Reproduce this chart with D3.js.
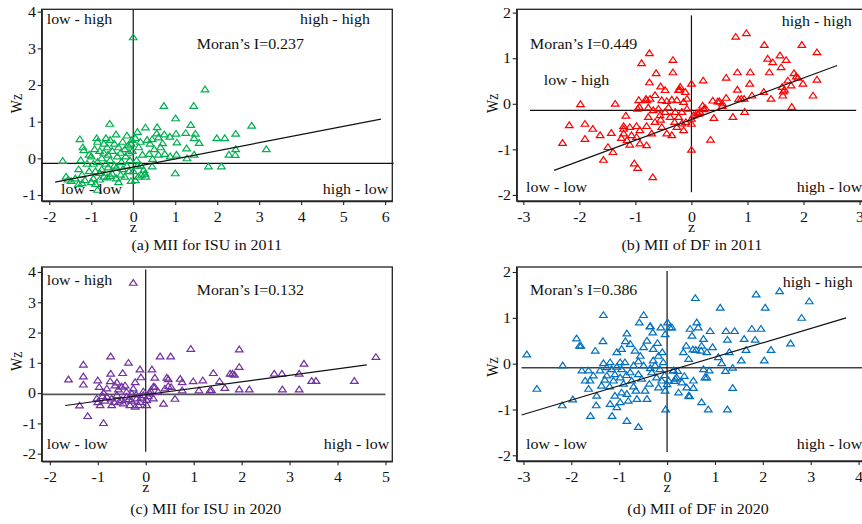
<!DOCTYPE html>
<html>
<head>
<meta charset="utf-8">
<script src="https://cdn.jsdelivr.net/npm/d3@7"></script>
<style>
  body { margin: 0; background: #fff; }
  text { font-family: "Liberation Serif", "Times New Roman", serif; font-size: 14px; fill: #111; }
</style>
</head>
<body>
<svg id="fig" width="862" height="524"></svg>
<script>
// points are [z, Wz]
const ptsA = [
  [0,3.3],[1.71,1.88],[0.73,1.43],[1.44,1.43],[1.01,1.09],[-0.56,0.94],[2.82,0.89],[1.37,0.91],[0.29,0.84],[0.57,0.85],
  [1.99,0.55],[2.18,0.55],[2.44,0.67],[3.17,0.25],[2.44,0.25],[2.43,0.09],[2.28,0.10],[1.79,-0.22],[2.10,-0.22],[1.00,-0.41],
  [1.57,0.42],[1.45,0.55],[1.48,0.67],[1.25,0.69],[1.27,0.27],[1.45,0.10],[1.28,0.0],[1.03,0.10],[1.04,0.43],[1.02,0.67],
  [0.87,0.59],[0.74,0.65],[0.60,0.57],[0.56,0.68],[0.45,0.52],[0.33,0.50],[0.70,0.41],[0.65,0.30],[0.50,0.25],[0.40,0.40],
  [0.38,0.12],[0.60,0.10],[0.75,0.12],[0.88,0.05],[0.46,-0.02],[0.45,-0.22],[0.22,0.10],[0.13,0.30],[0.17,0.45],[0.10,0.72],
  [0.05,0.55],[0.25,-0.32],[0.30,-0.50],[0.28,-0.42],[0.20,-0.45],[0.12,-0.50],[0.05,-0.60],[0.0,-0.35],[0.10,-0.20],[0.18,-0.20],[0.08,-0.05],
  [-1.68,-0.07],[-1.27,0.52],[-1.20,0.30],[-1.18,0.22],[-1.25,-0.05],[-1.10,-0.15],[-1.30,-0.30],[-1.22,-0.45],[-1.05,-0.35],[-1.60,-0.50],
  [-1.55,-0.58],[-1.48,-0.62],[-1.38,-0.55],[-1.30,-0.70],[-1.22,-0.68],[-0.85,-0.86],[-0.95,-0.55],[-1.00,-0.65],[-0.90,-0.70],[-0.80,-0.58],
  [-0.70,-0.50],[-0.62,-0.52],[-0.55,-0.48],[-0.50,-0.42],[-0.40,-0.55],[-0.35,-0.65],[-0.30,-0.45],[-0.20,-0.50],[-0.10,-0.35],[-0.05,-0.62],
  [-0.87,0.55],[-0.85,0.45],[-0.80,0.20],[-0.92,0.25],[-1.00,0.05],[-0.95,-0.15],[-0.85,-0.10],[-0.75,0.00],[-0.70,0.15],[-0.65,0.55],
  [-0.62,0.30],[-0.60,0.10],[-0.55,-0.05],[-0.50,0.20],[-0.45,0.40],[-0.41,0.65],[-0.38,0.05],[-0.35,0.30],[-0.30,0.15],[-0.28,-0.10],
  [-0.25,0.45],[-0.20,0.25],[-0.18,0.05],[-0.15,0.62],[-0.12,0.35],[-0.10,0.15],[-0.08,-0.05],[-0.05,0.40],[-0.02,0.20],[-0.03,0.50],
  [-0.45,-0.20],[-0.60,-0.25],[-0.75,-0.30],[-0.90,-0.35],[-1.05,0.10],[-0.70,0.40],[-0.55,0.50],[-0.65,-0.15],[-0.40,-0.25],[-0.25,-0.30],
  [-0.15,-0.20],[-1.15,-0.60],[-0.80,-0.40]
];

const ptsB = [
  [-1.98,-0.01],[-1.36,0.0],[-2.30,-0.86],[-2.18,-0.47],[-1.90,-0.44],[-1.90,-0.77],[-1.76,-0.55],[-1.63,-0.69],[-1.57,-1.23],[-1.49,-0.95],
  [-1.43,-0.64],[-1.40,-1.06],[-1.17,-0.26],[-1.21,-0.55],[-1.02,-1.31],[-0.96,-1.41],[-0.69,-1.61],[-0.89,0.89],[-0.75,1.11],[-0.33,0.96],
  [-0.63,0.67],[-0.33,0.69],[-0.75,0.47],[-0.55,0.38],[-0.21,0.31],[0,0.44],[0.21,0.51],[-0.81,0.11],[-0.93,-0.07],[0,-0.33],
  [0,-0.44],[0,-1.01],[0.34,-0.79],[0.40,-0.31],[0.20,-0.04],[0.22,-0.12],[0.12,-0.22],[0.38,0.07],[0.47,0.05],[0.62,0.13],
  [0.62,0.57],[0.82,0.69],[0.82,0.31],[0.74,-0.29],[0.95,-0.18],[0.89,0.11],[1.05,0.69],[1.04,0.44],[1.08,0.18],[0.79,1.47],
  [0.98,1.55],[1.30,1.29],[1.29,0.26],[1.36,0.99],[1.45,0.91],[1.39,0.69],[1.42,0.11],[1.58,1.06],[1.69,0.96],[1.60,0.80],
  [1.97,1.29],[2.24,1.13],[2.24,0.53],[2.17,0.18],[1.83,0.67],[1.72,0.51],[1.78,0.40],[1.90,0.57],[1.99,0.44],[1.66,0.31],
  [1.63,0.18],[1.79,-0.07],[1.87,0.60],[1.64,0.27],[1.62,0.37],[0.94,0.11],[0.84,0.10],[0.55,0.01],
  [-1.21,-0.49],[-1.10,-0.51],[-0.98,-0.49],[-1.21,-0.65],[-1.07,-0.69],[-1.15,-0.80],[-0.98,-0.73],[-0.92,-0.58],[-0.96,-0.11],[-0.77,-0.08],
  [-0.77,-0.29],[-0.68,-0.14],[-0.59,-0.11],[-0.56,-0.25],[-0.47,-0.18],[-0.41,-0.08],[-0.38,-0.29],[-0.29,-0.18],[-0.23,-0.29],[-0.17,-0.18],
  [-0.08,-0.11],[-0.65,-0.40],[-0.53,-0.51],[-0.44,-0.65],[-0.35,-0.69],[-0.26,-0.51],[-0.17,-0.43],[-0.14,-0.58],[-0.80,-0.49],[-0.71,-0.65],
  [-0.92,-0.87],[-0.80,-0.91],[-0.94,0.08],[-0.80,0.08],[-0.74,0.11],[-0.65,0.19],[-0.53,0.08],[-0.44,0.06],[-0.35,0.09],[-0.26,0.08],
  [-0.14,0.04],[-0.08,0.11],[0.04,-0.25],[-0.23,0.30],[-0.11,0.26],[-0.47,0.30],[-0.20,0.37],
  [0.10,-0.20],[0.25,-0.10],[0.50,0.05],[0.55,-0.05],[0.15,-0.18],[-0.10,-0.40],[-0.30,-0.40],[-0.55,-0.35],[-1.10,-0.90],[-1.25,-0.75]
];

const ptsC = [
  [-0.26,3.64],[-1.61,0.45],[-1.30,0.94],[-1.30,0.55],[-1.30,0.28],[-1.38,-0.41],[-1.21,-0.76],[-0.88,-0.99],[-1.00,0.42],[-0.97,0.20],
  [-0.73,1.21],[-0.73,0.64],[-0.74,0.39],[-0.64,0.25],[-0.48,0.66],[-0.36,1.0],[-0.43,0.25],[-0.22,0.36],[-0.12,0.78],[-0.10,0.52],
  [0.13,0.78],[0.19,0.51],[0.30,1.21],[0.52,1.21],[0.44,0.51],[0.47,0.46],[0.72,0.47],[0.76,0.36],[0.53,0.20],[0.19,0.20],
  [0.37,-0.35],[0.61,-0.19],[0.76,0.09],[0.94,1.46],[0.99,0.39],[1.11,0.09],[1.19,0.42],[1.34,0.09],[1.41,0.66],[1.54,0.39],
  [1.65,0.17],[1.76,0.64],[1.81,0.64],[1.85,0.61],[1.95,1.44],[1.95,0.86],[1.95,0.12],[2.16,0.12],[2.68,0.64],[2.84,0.64],
  [2.85,0.12],[3.20,0.64],[3.20,0.12],[3.30,0.97],[3.46,0.40],[3.55,0.40],[4.35,0.40],[4.80,1.19],
  [-0.50,0.21],[-0.88,0.01],[-0.81,-0.12],[-0.71,-0.18],[-0.60,-0.07],[-0.50,-0.23],[-0.40,-0.12],[-0.29,-0.01],[-0.19,-0.18],[-0.12,-0.29],
  [-0.05,-0.07],[0.02,-0.23],[0.09,-0.01],[0.16,-0.18],[-1.02,-0.18],[-0.95,-0.40],[-0.71,-0.40],[-0.47,-0.34],[-0.33,-0.40],[-0.22,-0.45],
  [-0.15,-0.40],[0.02,-0.40],[-0.40,0.04],[0.26,0.04],[0.40,0.15],[0.47,0.23],[-0.81,0.15],[-0.57,0.12],[-0.26,0.15],[0.16,0.21],
  [-0.55,-0.28],[-0.30,-0.25],[-0.10,-0.15],[0.05,-0.10],[-0.65,-0.30],[-0.85,-0.25],[-0.20,-0.05],[-0.05,0.05],[0.10,0.08],[-0.35,-0.20],
  [-0.90,-0.10],[-0.60,0.35],[-1.00,-0.30],[1.37,0.10]
];

const ptsD = [
  [-2.93,0.20],[-2.72,-0.55],[-2.18,-0.04],[-2.19,-0.91],[-1.97,-0.78],[-1.89,0.55],[-1.80,0.39],[-1.83,0.39],[-1.50,0.28],[-1.48,-0.91],
  [-1.60,-1.14],[-1.33,1.06],[-1.34,0.49],[-1.15,-1.14],[-0.84,-1.25],[-0.60,-1.38],[-0.49,1.06],[-0.58,0.90],[-0.84,0.66],[-0.87,0.49],
  [-0.35,0.82],[-0.30,0.68],[-0.13,0.79],[0.01,0.90],[0.06,0.79],[-0.04,0.64],[-0.03,-1.0],
  [0.59,1.43],[1.11,1.22],[1.86,1.51],[2.35,1.58],[2.97,1.36],[2.05,1.22],[2.81,1.0],[2.58,0.44],[2.17,0.30],[2.03,0.07],
  [1.77,0.76],[1.96,0.76],[1.84,0.52],[1.65,0.30],[1.61,0.54],[1.55,0.07],[1.41,0.71],[1.23,0.71],[1.26,0.52],[1.30,0.25],
  [1.37,-0.09],[1.37,-0.53],[1.26,-1.0],[0.86,-1.0],[0.72,-0.84],[1.14,0.01],[1.07,0.14],[0.90,0.71],[0.95,0.36],[1.22,-0.16],
  [0.76,0.54],[0.65,0.79],[0.52,0.61],[0.62,0.90],[0.48,0.76],[0.34,0.25],[0.45,0.10],[0.40,0.39],[0.72,0.39],[0.83,0.25],
  [0.76,-0.12],[0.88,-0.15],[0.79,-0.30],[0.55,-0.37],[0.55,-0.53],[0.41,-0.52],[0.24,-0.63],[0.45,-0.70],[0.31,-0.41],[0.17,-0.33],
  [0.13,-0.15],[0.10,0.79],[0.83,-0.30],[0.60,0.30],[0.36,-0.27],[0.22,-0.16],[0.15,-0.38],[0.47,-0.71],[0.71,0.28],[0.54,0.31],
  [-0.36,0.81],[-1.64,-0.15],[-1.71,-0.37],[-1.33,0.01],[-1.26,-0.08],[-1.26,-0.26],[-1.19,0.03],[-1.16,-0.12],[-1.12,-0.37],[-1.09,-0.23],
  [-1.05,-0.07],[-0.98,0.03],[-0.98,-0.30],[-0.95,-0.12],[-0.91,-0.44],[-0.88,0.03],[-0.84,-0.66],[-0.77,-0.19],[-0.74,-0.37],[-0.70,-0.04],
  [-0.65,-0.59],[-0.60,-0.23],[-0.53,-0.33],[-0.49,-0.04],[-0.46,-0.59],[-0.42,-0.77],[-0.37,-0.44],[-0.32,-0.19],[-0.29,0.07],[-0.25,-0.04],
  [-0.22,-0.30],[-0.18,-0.52],[-0.15,-0.12],[-0.11,-0.37],[-0.08,0.03],[-0.04,-0.59],[-1.05,0.25],[-0.95,0.32],[-0.77,0.43],[-0.67,0.28],
  [-0.56,0.17],[-0.49,0.36],[-0.42,0.50],[-0.29,0.32],[-0.18,0.17],[-1.09,-0.70],[-0.95,-0.63],[-1.19,-0.88],[-1.05,-0.95],[-0.98,-0.84],
  [-0.81,-0.81],[-1.40,-0.15],[-1.54,-0.26],[0.03,-0.37],[0.13,-0.15],[0.20,-0.30],[-1.78,-0.15],[-1.61,-0.37],[-1.64,-0.55],[-1.47,-0.70],
  [-1.37,-0.48],[-0.63,-0.77],[-1.20,-0.50],[-0.70,-0.50],[-0.35,-0.10],[-0.05,-0.25],[0.00,-0.45],[-0.60,0.05],[-0.85,-0.25],[-1.30,-0.35],
  [-0.20,0.45],[-0.10,0.25]
];

// fitted lines, two end points each
const fitA = [[-1.86,-0.65],[5.9,1.07]];
const fitB = [[-2.45,-1.46],[2.6,0.84]];
const fitC = [[-1.68,-0.41],[4.61,0.93]];
const fitD = [[-3.04,-1.12],[3.74,1.0]];

// mean reference lines: [x0, x1, yLevel] horizontal, [y0, y1] vertical at z = 0
const hLineA = [-2.18, 6.2, -0.135], vLineA = [-1.16, 4.06];
const hLineB = [-2.88, 2.94, -0.145], vLineB = [-1.94, 1.94];
const hLineC = [-2.14, 5.0, -0.04], vLineC = [-1.94, 4.08];
const hLineD = [-3.04, 4.4, -0.087], vLineD = [-1.93, 2.02];

const xTicksA = [-2,-1,0,1,2,3,4,5,6], yTicksA = [-1,0,1,2,3,4];
const xTicksB = [-3,-2,-1,0,1,2,3],    yTicksB = [-2,-1,0,1,2];
const xTicksC = [-2,-1,0,1,2,3,4,5],   yTicksC = [-2,-1,0,1,2,3,4];
const xTicksD = [-3,-2,-1,0,1,2,3,4],  yTicksD = [-2,-1,0,1,2];

const captions = ["(a) MII for ISU in 2011", "(b) MII of DF in 2011", "(c) MII for ISU in 2020", "(d) MII of DF in 2020"];
const moranText = ["Moran\u2019s I=0.237", "Moran\u2019s I=0.449", "Moran\u2019s I=0.132", "Moran\u2019s I=0.386"];
const colors = ["#00b050", "#ff0000", "#7030a0", "#0070c0"];

const SX = 1.14;   // the original figure is stretched sideways
const TRI = "M0,-3.3L3.8,2.4L-3.8,2.4Z";

const svg = d3.select("#fig");

function label(g, x, y, str, anchor) {
  g.append("text")
    .attr("transform", `translate(${x},${y}) scale(${SX},1)`)
    .attr("text-anchor", anchor || "start")
    .text(str);
}

function fmt(d) { return String(d); }

function drawPanel(p) {
  const x = d3.scaleLinear().domain(p.xDom).range([p.left, p.right]);
  const y = d3.scaleLinear().domain(p.yDom).range([p.bottom, p.top]);
  const g = svg.append("g");

  g.append("rect")
    .attr("x", p.left).attr("y", p.top)
    .attr("width", p.right - p.left).attr("height", p.bottom - p.top)
    .attr("fill", "none").attr("stroke", "#222").attr("stroke-width", 1.3);

  const xa = g.append("g").attr("transform", `translate(0,${p.bottom})`)
    .call(d3.axisBottom(x).tickValues(p.xTicks).tickSize(4).tickSizeOuter(0).tickFormat(fmt));
  xa.selectAll("text").attr("y", 20.7).attr("dy", null)
    .attr("transform", `scale(${SX},1)`);
  const ya = g.append("g").attr("transform", `translate(${p.left},0)`)
    .call(d3.axisLeft(y).tickValues(p.yTicks).tickSize(4).tickSizeOuter(0).tickFormat(fmt));
  ya.selectAll("text").attr("x", -5).attr("dy", "0.34em")
    .attr("transform", `scale(${SX},1)`);
  g.selectAll(".domain").attr("stroke", "#222").attr("stroke-width", 1.3);
  g.selectAll(".tick line").attr("stroke", "#222").attr("stroke-width", 1.1);
  g.selectAll(".tick text").attr("font-size", null).attr("font-family", null).attr("fill", "#111");

  // mean lines
  g.append("line")
    .attr("x1", x(p.hLine[0])).attr("x2", x(p.hLine[1]))
    .attr("y1", y(p.hLine[2])).attr("y2", y(p.hLine[2]))
    .attr("stroke", p.hColor).attr("stroke-width", p.hWidth);
  g.append("line")
    .attr("x1", x(0)).attr("x2", x(0))
    .attr("y1", y(p.vLine[0])).attr("y2", y(p.vLine[1]))
    .attr("stroke", "#111").attr("stroke-width", 1.2);

  // points
  g.selectAll("path.pt").data(p.pts).enter().append("path")
    .attr("class", "pt")
    .attr("d", TRI)
    .attr("transform", d => `translate(${x(d[0])},${y(d[1])})`)
    .attr("fill", "none").attr("stroke", p.color).attr("stroke-width", 1.2);

  // regression line
  g.append("path")
    .attr("d", d3.line().x(d => x(d[0])).y(d => y(d[1]))(p.fit))
    .attr("fill", "none").attr("stroke", "#111").attr("stroke-width", 1.2);

  // texts
  for (const t of p.texts) label(g, t[0], t[1], t[2], t[3]);
  label(g, x(0), p.zBase, "z", "middle");
  label(g, p.capX, p.capBase, p.caption, "middle");
  g.append("text")
    .attr("transform", `translate(${p.wzX},${p.wzY}) scale(${SX},1) rotate(-90)`)
    .attr("text-anchor", "middle").text("Wz");
}

drawPanel({
  left: 41.7, right: 392.3, top: 9.3, bottom: 201,
  xDom: [-2.18, 6.17], yDom: [-1.164, 4.065],
  xTicks: xTicksA, yTicks: yTicksA, pts: ptsA, fit: fitA, color: colors[0],
  hLine: hLineA, vLine: vLineA, hColor: "#111", hWidth: 1.2,
  texts: [[46.7, 24.3, "low - high"], [370, 24.3, "high - high", "end"], [196.7, 49.3, moranText[0]],
          [61, 194.3, "low - low"], [388.3, 194.3, "high - low", "end"]],
  zBase: 232, capX: 206.7, capBase: 250, caption: captions[0], wzX: 22, wzY: 103.5
});

drawPanel({
  left: 516.7, right: 872, top: 9.3, bottom: 201,
  xDom: [-3.118, 3.222], yDom: [-2.133, 2.073],
  xTicks: xTicksB, yTicks: yTicksB, pts: ptsB, fit: fitB, color: colors[1],
  hLine: hLineB, vLine: vLineB, hColor: "#111", hWidth: 1.2,
  texts: [[851.7, 25.7, "high - high", "end"], [530, 49.3, moranText[1]], [543.7, 85, "low - high"],
          [526, 191.7, "low - low"], [796.7, 191.7, "high - low"]],
  zBase: 232, capX: 691.8, capBase: 250, caption: captions[1], wzX: 497.7, wzY: 103.3
});

drawPanel({
  left: 41.7, right: 392.3, top: 267, bottom: 461.3,
  xDom: [-2.169, 5.142], yDom: [-2.252, 4.164],
  xTicks: xTicksC, yTicks: yTicksC, pts: ptsC, fit: fitC, color: colors[2],
  hLine: hLineC, vLine: vLineC, hColor: "#555", hWidth: 1.7,
  texts: [[46.7, 285.3, "low - high"], [196.7, 295.3, moranText[2]],
          [46.7, 449.3, "low - low"], [389.3, 449.3, "high - low", "end"]],
  zBase: 492, capX: 205.8, capBase: 513.7, caption: captions[2], wzX: 21.7, wzY: 361.2
});

drawPanel({
  left: 516.7, right: 872, top: 267, bottom: 461,
  xDom: [-3.141, 4.28], yDom: [-2.124, 2.109],
  xTicks: xTicksD, yTicks: yTicksD, pts: ptsD, fit: fitD, color: colors[3],
  hLine: hLineD, vLine: vLineD, hColor: "#444", hWidth: 1.5,
  texts: [[530, 295.3, moranText[3]], [782.7, 287, "high - high"],
          [526, 448.7, "low - low"], [796.7, 448.7, "high - low"]],
  zBase: 492, capX: 698, capBase: 513.7, caption: captions[3], wzX: 497.7, wzY: 367
});
</script>
</body>
</html>
